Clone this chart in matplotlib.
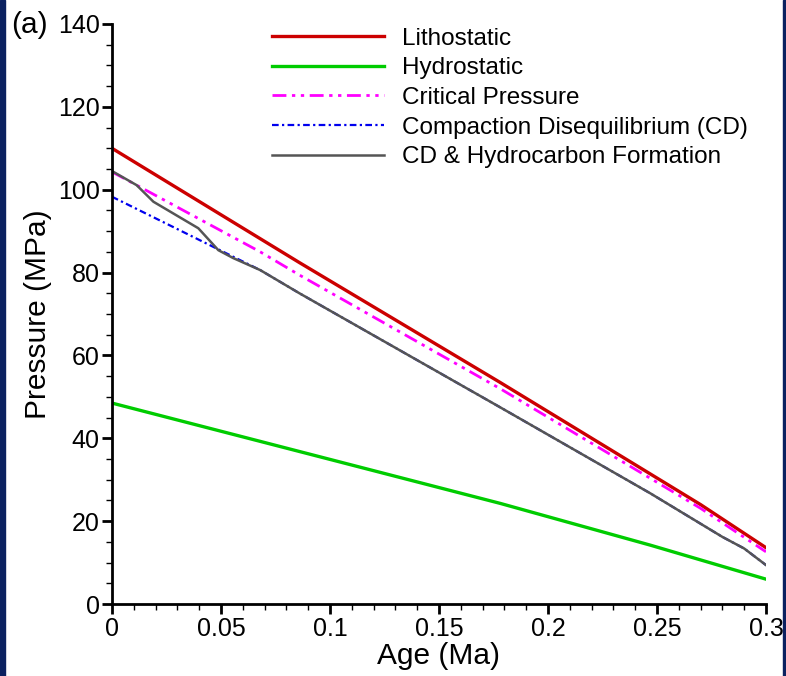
import numpy as np
import matplotlib.pyplot as plt
from matplotlib.patches import Rectangle
from matplotlib.ticker import MultipleLocator

plt.rcParams['font.family'] = ['Liberation Sans', 'DejaVu Sans']

# values
age_litho = [0.0, 0.086, 0.178, 0.27, 0.3]
p_litho = [110.0, 82.4, 53.5, 24.0, 13.6]

age_hydro = [0.0, 0.178, 0.247, 0.3]
p_hydro = [48.5, 24.3, 14.2, 6.0]

age_crit = [0.0, 0.068, 0.086, 0.178, 0.27, 0.3]
p_crit = [104.3, 85.0, 79.4, 52.0, 23.1, 12.6]

age_cd = [0.0, 0.068, 0.086, 0.178, 0.247, 0.28, 0.29, 0.3]
p_cd = [98.3, 80.6, 75.0, 47.5, 26.7, 16.2, 13.4, 9.4]

age_hc = [0.0, 0.0113, 0.019, 0.0396, 0.0488, 0.0556, 0.068, 0.086, 0.178,
          0.247, 0.28, 0.29, 0.3]
p_hc = [104.5, 101.1, 97.1, 90.7, 85.4, 83.5, 80.6, 75.0, 47.5,
        26.7, 16.2, 13.4, 9.4]

fig = plt.figure(figsize=(7.86, 6.76), dpi=100)
ax = fig.add_axes([0.1425, 0.1065, 0.832, 0.858])

ax.plot(age_litho, p_litho, color='#cc0000', lw=2.4, label='Lithostatic')
ax.plot(age_hydro, p_hydro, color='#00cc00', lw=2.4, label='Hydrostatic')
ax.plot(age_crit, p_crit, color='#ff00ff', lw=2.0, dashes=(5, 2, 1.2, 2, 1.2, 2),
        label='Critical Pressure')
ax.plot(age_cd, p_cd, color='#0000ee', lw=1.6, dashes=(3, 1.5, 1, 1.5),
        label='Compaction Disequilibrium (CD)')
ax.plot(age_hc, p_hc, color='#555555', lw=1.8, label='CD & Hydrocarbon Formation')

ax.set_xlim(0, 0.3)
ax.set_ylim(0, 140)
ax.xaxis.set_minor_locator(MultipleLocator(0.01))
ax.yaxis.set_major_locator(MultipleLocator(20))
ax.yaxis.set_minor_locator(MultipleLocator(5))
ax.set_xticks(np.arange(0, 0.301, 0.05))
ax.set_xticklabels(['0', '0.05', '0.1', '0.15', '0.2', '0.25', '0.3'])

for s in ['top', 'right']:
    ax.spines[s].set_visible(False)
for s in ['left', 'bottom']:
    ax.spines[s].set_linewidth(2)
ax.tick_params(which='major', length=7, width=2, labelsize=18, pad=2)
ax.tick_params(which='minor', length=4, width=1)
ax.set_xlabel('Age (Ma)', fontsize=21.5, labelpad=1)
ax.set_ylabel('Pressure (MPa)', fontsize=21.5, labelpad=4)

ax.legend(loc='upper left', bbox_to_anchor=(0.211, 1.031), frameon=False,
          fontsize=17.5, handlelength=4.6, handletextpad=0.74, labelspacing=0.31)

fig.text(0.014, 0.963, '(a)', fontsize=21.5, va='center', ha='left')

# dark page border strips
fig.patches.append(Rectangle((0, 0), 5 / 786, 1, transform=fig.transFigure,
                             color='#0b2160', zorder=10))
fig.patches.append(Rectangle((783 / 786, 0), 3 / 786, 1, transform=fig.transFigure,
                             color='#0b2160', zorder=10))

fig.savefig('out.png', dpi=100)
